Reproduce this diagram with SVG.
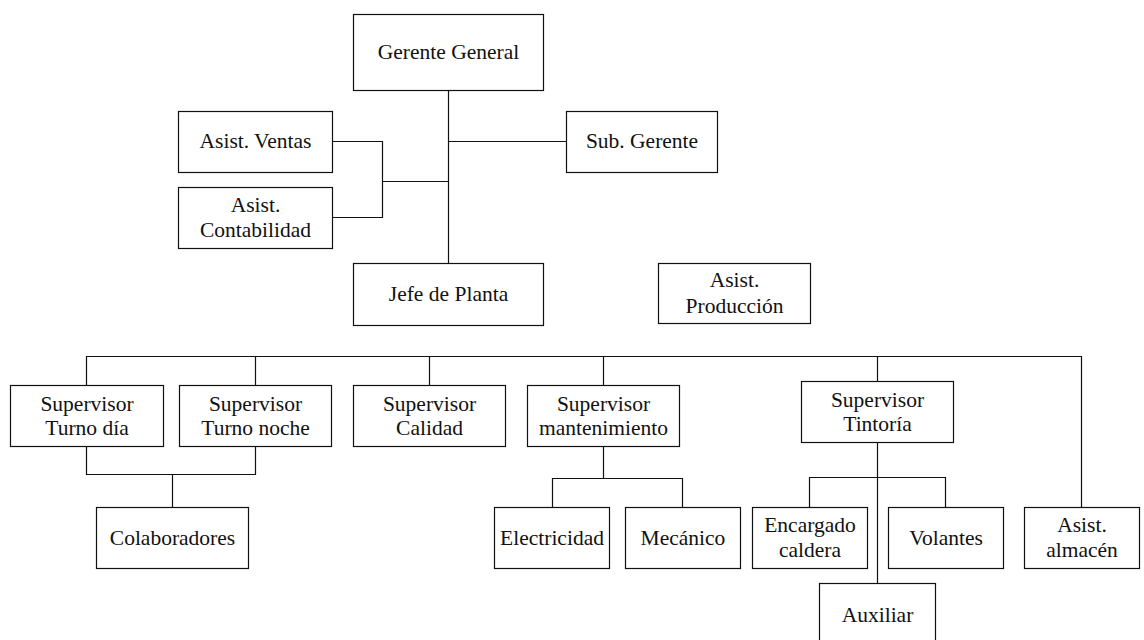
<svg xmlns="http://www.w3.org/2000/svg" width="1144" height="640" viewBox="0 0 1144 640">
  <style>
    .box { fill: #ffffff; stroke: #111111; stroke-width: 1.2; }
    .lbl { font-family: "Liberation Serif", "Times New Roman", serif; font-size: 21.5px; fill: #111111; text-anchor: middle; }
    .wire { fill: none; stroke: #111111; stroke-width: 1.2; }
  </style>
  <rect width="1144" height="640" fill="#ffffff"/>

  <!-- reporting lines -->
  <g id="connectors">
    <path class="wire" d="M448.5 90 V263"/>
    <path class="wire" d="M448.5 141.5 H566"/>
    <path class="wire" d="M332 141.5 H382.5 V217.5 H332"/>
    <path class="wire" d="M382.5 181.5 H448.5"/>
    <path class="wire" d="M86.5 385 V356.5 H1081.5 V507"/>
    <path class="wire" d="M255.5 356.5 V385"/>
    <path class="wire" d="M429.5 356.5 V385"/>
    <path class="wire" d="M603.5 356.5 V385"/>
    <path class="wire" d="M877.5 356.5 V381"/>
    <path class="wire" d="M86.5 446 V474.5 H255.5 V446"/>
    <path class="wire" d="M172.5 474.5 V507"/>
    <path class="wire" d="M603.5 446 V478.5"/>
    <path class="wire" d="M552.5 507 V478.5 H682.5 V507"/>
    <path class="wire" d="M877.5 442 V583"/>
    <path class="wire" d="M809.5 507 V477.5 H945.5 V507"/>
  </g>

  <g id="gerente-general">
    <rect class="box" x="353.5" y="14.5" width="190" height="76"/>
    <text class="lbl" x="448.5" y="58.5">Gerente General</text>
  </g>
  <g id="asist-ventas">
    <rect class="box" x="178.5" y="111.5" width="154" height="61"/>
    <text class="lbl" x="255.5" y="148">Asist. Ventas</text>
  </g>
  <g id="asist-contabilidad">
    <rect class="box" x="178.5" y="187.5" width="154" height="61"/>
    <text class="lbl" x="255.5" y="212">Asist.</text>
    <text class="lbl" x="255.5" y="236.5">Contabilidad</text>
  </g>
  <g id="sub-gerente">
    <rect class="box" x="566.5" y="111.5" width="151" height="61"/>
    <text class="lbl" x="642" y="148">Sub. Gerente</text>
  </g>
  <g id="jefe-planta">
    <rect class="box" x="353.5" y="263.5" width="190" height="62"/>
    <text class="lbl" x="448.5" y="300.5">Jefe de Planta</text>
  </g>
  <g id="asist-produccion">
    <rect class="box" x="658.5" y="263.5" width="152" height="60"/>
    <text class="lbl" x="734.5" y="287">Asist.</text>
    <text class="lbl" x="734.5" y="313">Producción</text>
  </g>

  <g id="sup-turno-dia">
    <rect class="box" x="10.5" y="385.5" width="153" height="61"/>
    <text class="lbl" x="87" y="410.5">Supervisor</text>
    <text class="lbl" x="87" y="435">Turno día</text>
  </g>
  <g id="sup-turno-noche">
    <rect class="box" x="179.5" y="385.5" width="152" height="61"/>
    <text class="lbl" x="255.5" y="410.5">Supervisor</text>
    <text class="lbl" x="255.5" y="435">Turno noche</text>
  </g>
  <g id="sup-calidad">
    <rect class="box" x="353.5" y="385.5" width="152" height="61"/>
    <text class="lbl" x="429.5" y="410.5">Supervisor</text>
    <text class="lbl" x="429.5" y="435">Calidad</text>
  </g>
  <g id="sup-mantenimiento">
    <rect class="box" x="527.5" y="385.5" width="152" height="61"/>
    <text class="lbl" x="603.5" y="410.5">Supervisor</text>
    <text class="lbl" x="603.5" y="435">mantenimiento</text>
  </g>
  <g id="sup-tintoria">
    <rect class="box" x="801.5" y="381.5" width="152" height="61"/>
    <text class="lbl" x="877.5" y="406.5">Supervisor</text>
    <text class="lbl" x="877.5" y="431">Tintoría</text>
  </g>

  <g id="colaboradores">
    <rect class="box" x="96.5" y="507.5" width="152" height="61"/>
    <text class="lbl" x="172.5" y="544.5">Colaboradores</text>
  </g>
  <g id="electricidad">
    <rect class="box" x="494.5" y="507.5" width="115" height="61"/>
    <text class="lbl" x="552" y="545">Electricidad</text>
  </g>
  <g id="mecanico">
    <rect class="box" x="625.5" y="507.5" width="115" height="61"/>
    <text class="lbl" x="683" y="545">Mecánico</text>
  </g>
  <g id="encargado-caldera">
    <rect class="box" x="752.5" y="507.5" width="115" height="61"/>
    <text class="lbl" x="810" y="532">Encargado</text>
    <text class="lbl" x="810" y="556.5">caldera</text>
  </g>
  <g id="volantes">
    <rect class="box" x="888.5" y="507.5" width="115" height="61"/>
    <text class="lbl" x="946" y="544.5">Volantes</text>
  </g>
  <g id="asist-almacen">
    <rect class="box" x="1024.5" y="507.5" width="115" height="61"/>
    <text class="lbl" x="1082" y="532">Asist.</text>
    <text class="lbl" x="1082" y="556.5">almacén</text>
  </g>
  <g id="auxiliar">
    <rect class="box" x="819.5" y="583.5" width="116" height="62"/>
    <text class="lbl" x="877.5" y="621.5">Auxiliar</text>
  </g>
</svg>
